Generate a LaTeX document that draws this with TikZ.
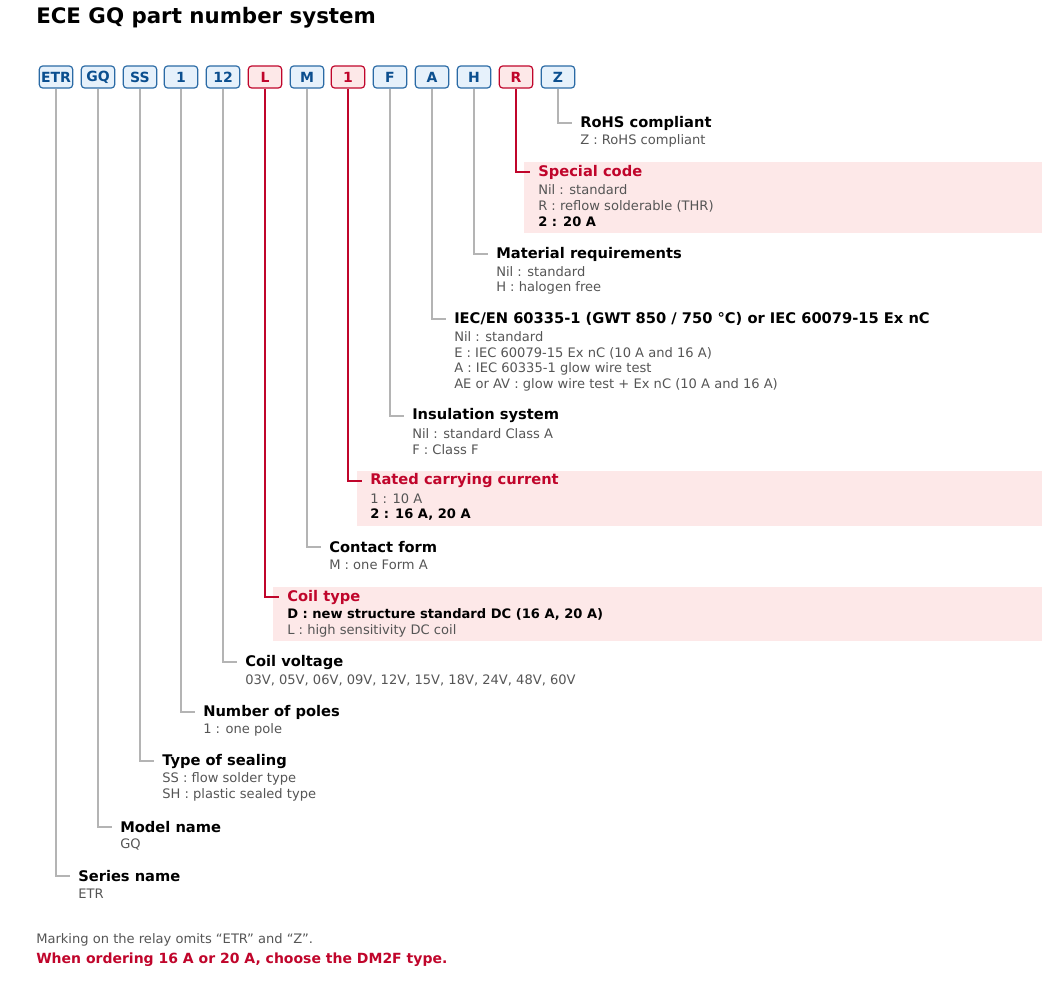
\documentclass[tikz,border=0pt]{standalone}
\usepackage{fontspec}
\setmainfont{DejaVu Sans}
\definecolor{cblue}{HTML}{0B4F8F}
\definecolor{cbfill}{HTML}{E6F1FB}
\definecolor{cbdraw}{HTML}{2A6AA5}
\definecolor{cred}{HTML}{C0052B}
\definecolor{crfill}{HTML}{FDE8E8}
\definecolor{cgrey}{HTML}{B4B4B4}
\definecolor{ctext}{HTML}{555555}
\begin{document}
\begin{tikzpicture}[x=0.75pt,y=-0.75pt,
  box/.style={draw=cbdraw,fill=cbfill,text=cblue,rounded corners=2.5pt,line width=0.9pt,minimum width=25pt,minimum height=16.5pt,inner sep=1pt,font=\fontsize{10.5}{12}\selectfont\bfseries},
  rbox/.style={box,draw=cred,fill=crfill,text=cred},
  ttl/.style={anchor=west,inner xsep=6pt,inner ysep=0pt,font=\fontsize{11}{13}\selectfont\bfseries},
  rttl/.style={ttl,text=cred},
  ln/.style={anchor=west,inner sep=0pt,text=ctext,font=\fontsize{9.8}{12}\selectfont},
  bl/.style={ln,text=black,font=\fontsize{9.8}{12}\selectfont\bfseries},
  con/.style={draw=cgrey,line width=0.8pt},
  rcon/.style={draw=cred,line width=1.1pt},
  hl/.style={fill=crfill,draw=none}]
\useasboundingbox (0,0) rectangle (1063,1000);
% highlights
\fill[crfill] (524,162) rectangle (1042,233);
\fill[crfill] (357,471) rectangle (1042,526);
\fill[crfill] (273,587) rectangle (1042,641);
\node[anchor=west,inner sep=0,font=\fontsize{16}{19}\selectfont\bfseries] (title) at (36,18) {ECE GQ part number system};
% boxes
\node[box] (b0) at (56,77) {ETR};
\node[box] (b1) at (98,77) {GQ};
\node[box] (b2) at (140,77) {SS};
\node[box] (b3) at (181,77) {1};
\node[box] (b4) at (223,77) {12};
\node[rbox] (b5) at (265,77) {L};
\node[box] (b6) at (307,77) {M};
\node[rbox] (b7) at (348,77) {1};
\node[box] (b8) at (390,77) {F};
\node[box] (b9) at (432,77) {A};
\node[box] (b10) at (474,77) {H};
\node[rbox] (b11) at (516,77) {R};
\node[box] (b12) at (558,77) {Z};
% titles
\node[ttl] (t12) at (572,123) {RoHS compliant};
\node[ln] at (580,141) {Z : RoHS compliant};
\node[rttl] (t11) at (530,172) {Special code};
\node[ln] at (538,190) {Nil : standard};
\node[ln] at (538,206) {R : reflow solderable (THR)};
\node[bl] at (538,222) {2 : 20 A};
\node[ttl] (t10) at (488,254) {Material requirements};
\node[ln] at (496,272) {Nil : standard};
\node[ln] at (496,288) {H : halogen free};
\node[ttl] (t9) at (446,319) {IEC/EN 60335-1 (GWT 850 / 750 °C) or IEC 60079-15 Ex nC};
\node[ln] at (454,337) {Nil : standard};
\node[ln] at (454,353) {E : IEC 60079-15 Ex nC (10 A and 16 A)};
\node[ln] at (454,369) {A : IEC 60335-1 glow wire test};
\node[ln] at (454,385) {AE or AV : glow wire test + Ex nC (10 A and 16 A)};
\node[ttl] (t8) at (404,416) {Insulation system};
\node[ln] at (412,434) {Nil : standard Class A};
\node[ln] at (412,450) {F : Class F};
\node[rttl] (t7) at (362,481) {Rated carrying current};
\node[ln] at (370,499) {1 : 10 A};
\node[bl] at (370,515) {2 : 16 A, 20 A};
\node[ttl] (t6) at (321,547) {Contact form};
\node[ln] at (329,565) {M : one Form A};
\node[rttl] (t5) at (279,597) {Coil type};
\node[bl] at (287,614) {D : new structure standard DC (16 A, 20 A)};
\node[ln] at (287,631) {L : high sensitivity DC coil};
\node[ttl] (t4) at (237,662) {Coil voltage};
\node[ln] at (245,680) {03V, 05V, 06V, 09V, 12V, 15V, 18V, 24V, 48V, 60V};
\node[ttl] (t3) at (195,712) {Number of poles};
\node[ln] at (203,730) {1 : one pole};
\node[ttl] (t2) at (154,761) {Type of sealing};
\node[ln] at (162,779) {SS : flow solder type};
\node[ln] at (162,795) {SH : plastic sealed type};
\node[ttl] (t1) at (112,827) {Model name};
\node[ln] at (120,844) {GQ};
\node[ttl] (t0) at (70,876) {Series name};
\node[ln] at (78,894) {ETR};
% connectors
\foreach \i in {0,1,2,3,4,6,8,9,10,12} \draw[con] (b\i.south) |- (t\i.west);
\foreach \i in {5,7,11} \draw[rcon] (b\i.south) |- (t\i.west);
\node[ln] (n1) at (36,940) {Marking on the relay omits “ETR” and “Z”.};
\node[ln,text=cred,font=\fontsize{10.5}{12}\selectfont\bfseries] (n2) at (36,960) {When ordering 16 A or 20 A, choose the DM2F type.};
\end{tikzpicture}
\end{document}
